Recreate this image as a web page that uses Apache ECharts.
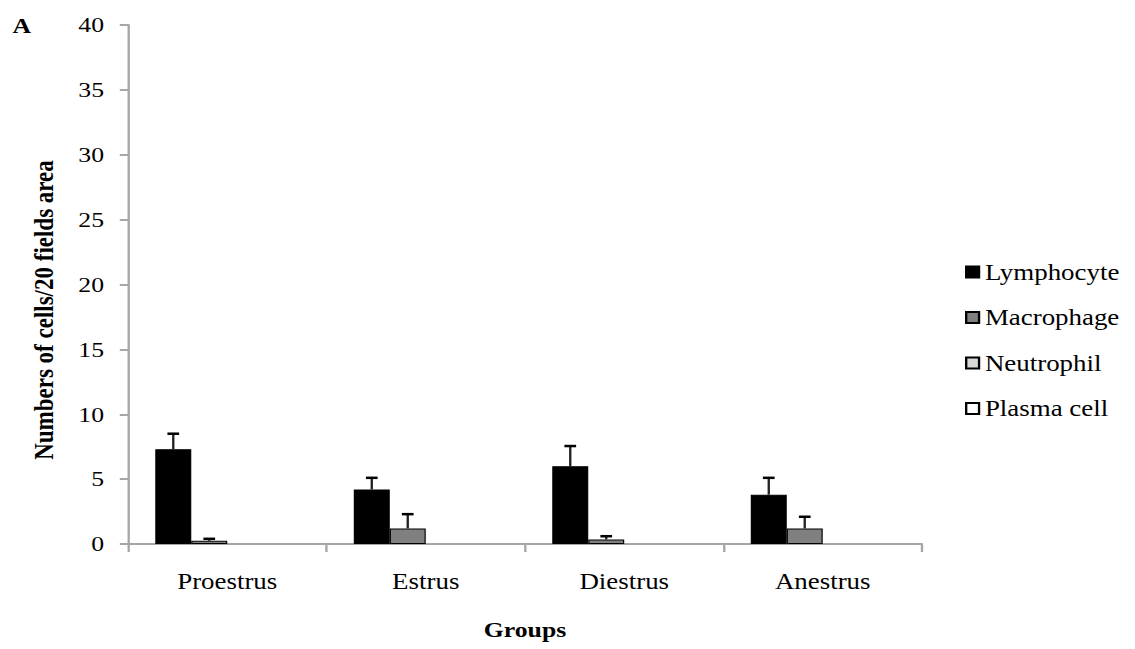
<!DOCTYPE html>
<html>
<head>
<meta charset="utf-8">
<title>Numbers of cells/20 fields area</title>
<script src="https://cdn.jsdelivr.net/npm/echarts@6/dist/echarts.min.js"></script>
<style>
  html, body { margin: 0; padding: 0; background: #fff; overflow: hidden; }
  /* the figure is drawn slightly condensed, then widened horizontally */
  #chart { width: 970px; height: 649px; transform: scaleX(1.17); transform-origin: 0 0; }
</style>
</head>
<body>
<div id="chart"></div>
<script>
// Groups (oestrous cycle phases)
const categories = ['Proestrus', 'Estrus', 'Diestrus', 'Anestrus'];
const seriesNames = ['Lymphocyte', 'Macrophage', 'Neutrophil', 'Plasma cell'];

// Mean cell counts per 20 fields
const lymphocyte = [7.3, 4.2, 6.0, 3.8];
const macrophage = [0.25, 1.2, 0.35, 1.2];
const neutrophil = [0, 0, 0, 0];
const plasmaCell = [0, 0, 0, 0];

// Upper error (SE) for each mean
const lymphocyteErr = [1.2, 0.9, 1.55, 1.3];
const macrophageErr = [0.15, 1.1, 0.25, 0.9];

// Y-axis ticks
const yMin = 0, yMax = 40, yStep = 5;

const FONT = '"Liberation Serif", "Times New Roman", serif';
const CAT_GAP = 0.275;
const fills = ['#000000', '#808080', '#d9d9d9', '#ffffff'];
const values = [lymphocyte, macrophage, neutrophil, plasmaCell];
const errors = [lymphocyteErr, macrophageErr, null, null];

const chart = echarts.init(document.getElementById('chart'), null, { renderer: 'svg' });

function barSeries(idx) {
  return {
    name: seriesNames[idx],
    type: 'bar',
    barGap: '0%',
    barCategoryGap: (CAT_GAP * 100) + '%',
    itemStyle: { color: fills[idx], borderColor: '#000', borderWidth: 1 },
    emphasis: { disabled: true },
    data: values[idx].map(v => v === 0 ? { value: v, itemStyle: { borderWidth: 0 } } : v)
  };
}

function errorSeries(idx) {
  const n = seriesNames.length;
  return {
    name: seriesNames[idx] + ' SE',
    type: 'custom',
    z: 5,
    silent: true,
    renderItem: function (params, api) {
      const ci = api.value(0);
      const mean = api.value(1);
      const err = api.value(2);
      const band = api.size([1, 0])[0];
      const bw = band * (1 - CAT_GAP) / n;
      const center = api.coord([ci, 0])[0] + (idx - (n - 1) / 2) * bw;
      const yLow = api.coord([ci, mean])[1];
      const yHigh = api.coord([ci, mean + err])[1];
      const half = 5;
      return {
        type: 'group',
        children: [
          { type: 'line', shape: { x1: center, y1: yLow, x2: center, y2: yHigh },
            style: { stroke: '#222', lineWidth: 2 } },
          { type: 'line', shape: { x1: center - half, y1: yHigh, x2: center + half, y2: yHigh },
            style: { stroke: '#000', lineWidth: 2.5 } }
        ]
      };
    },
    data: values[idx].map((v, i) => [i, v, errors[idx][i]])
  };
}

const series = [];
for (let i = 0; i < seriesNames.length; i++) series.push(barSeries(i));
for (let i = 0; i < seriesNames.length; i++) if (errors[i]) series.push(errorSeries(i));

chart.setOption({
  animation: false,
  backgroundColor: '#fff',
  textStyle: { fontFamily: FONT },
  grid: { left: 109.4, right: 182, top: 25, bottom: 105, containLabel: false },
  legend: {
    data: seriesNames,
    orient: 'vertical',
    left: 824.8,
    top: 260,
    padding: 0,
    icon: 'rect',
    itemWidth: 11,
    itemHeight: 11,
    itemGap: 21.5,
    selectedMode: false,
    textStyle: { fontFamily: FONT, fontSize: 23, color: '#000', lineHeight: 24 }
  },
  xAxis: {
    type: 'category',
    data: categories,
    boundaryGap: true,
    name: 'Groups',
    nameLocation: 'middle',
    nameGap: 75,
    nameTextStyle: { fontFamily: FONT, fontSize: 22, fontWeight: 'bold', color: '#000' },
    axisLine: { show: true, lineStyle: { color: '#a6a6a6', width: 2 } },
    axisTick: { show: true, inside: false, length: 8, alignWithLabel: false,
      lineStyle: { color: '#a6a6a6', width: 2 } },
    axisLabel: { margin: 26, fontFamily: FONT, fontSize: 23, color: '#000' },
    splitLine: { show: false }
  },
  yAxis: {
    type: 'value',
    min: yMin,
    max: yMax,
    interval: yStep,
    axisLine: { show: true, lineStyle: { color: '#a6a6a6', width: 2 } },
    axisTick: { show: true, inside: false, length: 7, lineStyle: { color: '#a6a6a6', width: 2 } },
    axisLabel: { margin: 20.5, fontFamily: FONT, fontSize: 22, color: '#000' },
    splitLine: { show: false }
  },
  graphic: [
    {
      type: 'text',
      left: 10.6,
      top: 15,
      style: { text: 'A', font: 'bold 22px "Liberation Serif", serif', fill: '#000' }
    },
    {
      type: 'text',
      x: 37.2,
      y: 310,
      rotation: Math.PI / 2,
      style: {
        text: 'Numbers of cells/20 fields area',
        font: 'bold 23px "Liberation Serif", serif',
        fill: '#000',
        align: 'center',
        verticalAlign: 'middle'
      }
    }
  ],
  series: series
});
</script>
</body>
</html>
